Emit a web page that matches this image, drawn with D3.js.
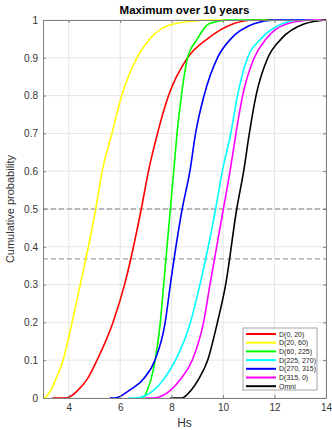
<!DOCTYPE html>
<html>
<head>
<meta charset="utf-8">
<script src="https://cdn.jsdelivr.net/npm/d3@7"></script>
<style>
  body { margin: 0; background: #fff; }
  svg { font-family: "Liberation Sans", Arial, sans-serif; }
  .grid line { stroke: #e6e6e6; }
</style>
</head>
<body>
<div id="chart"></div>
<script>
// cumulative probability levels shared by all curves (first two: flat start at 0)
var probs = [0, 0, 0.02, 0.05, 0.1, 0.2, 0.3, 0.5, 0.6, 0.7, 0.8, 0.9, 0.95, 0.99, 1, 1];

// Hs values at each probability level
var hsD0_20    = [3.37, 3.9, 4.35, 4.72, 5.1, 5.72, 6.17, 6.82, 7.1, 7.45, 7.88, 8.62, 9.39, 10.4, 11.2, 11.9];
var hsD20_60   = [2.98, 3.05, 3.3, 3.5, 3.78, 4.13, 4.45, 5.05, 5.3, 5.68, 6.06, 6.65, 7.15, 8.1, 9.6, 10.2];
var hsD60_225  = [6.84, 6.88, 7.05, 7.2, 7.36, 7.56, 7.69, 7.95, 8.08, 8.21, 8.38, 8.62, 9.0, 9.45, 10.2, 12.0];
var hsD225_270 = [6.33, 6.6, 7.3, 7.7, 8.15, 8.73, 9.1, 9.71, 9.97, 10.3, 10.56, 10.95, 11.47, 12.3, 13.0, 13.6];
var hsD270_315 = [5.6, 5.8, 6.35, 6.9, 7.35, 7.75, 7.95, 8.41, 8.71, 8.93, 9.26, 9.78, 10.3, 11.2, 12.0, 13.4];
var hsD315_0   = [6.97, 7.3, 7.95, 8.35, 8.8, 9.24, 9.49, 10.01, 10.27, 10.5, 10.76, 11.21, 11.67, 12.5, 13.5, 14.0];
var hsOmni     = [7.95, 8.4, 8.75, 9.05, 9.4, 9.78, 10.1, 10.53, 10.8, 11.02, 11.28, 11.74, 12.26, 13.17, 14.0, 14.0];

var seriesNames = ["D(0, 20)", "D(20, 60)", "D(60, 225)", "D(225, 270)", "D(270, 315)", "D(315, 0)", "Omni"];
var seriesValues = [hsD0_20, hsD20_60, hsD60_225, hsD225_270, hsD270_315, hsD315_0, hsOmni];
var colors = ["#ff0000", "#ffff00", "#00ff00", "#00ffff", "#0000ff", "#ff00ff", "#000000"];

var xTicks = [4, 6, 8, 10, 12, 14];
var yTicks = [0, 0.1, 0.2, 0.3, 0.4, 0.5, 0.6, 0.7, 0.8, 0.9, 1];
var refLevels = [0.5, 0.3679];

var W = 332, H = 430;
var margin = { top: 20, right: 6, bottom: 32, left: 43 };
var width = W - margin.left - margin.right,
    height = H - margin.top - margin.bottom;

var svg = d3.select("#chart").append("svg")
  .attr("width", W).attr("height", H);

var g = svg.append("g")
  .attr("transform", "translate(" + margin.left + "," + margin.top + ")");

var x = d3.scaleLinear().domain([3, 14]).range([0, width]);
var y = d3.scaleLinear().domain([0, 1]).range([height, 0]);

// grid
g.append("g").attr("class", "grid")
  .selectAll("line.v").data(xTicks).enter().append("line")
  .attr("x1", function (d) { return x(d); }).attr("x2", function (d) { return x(d); })
  .attr("y1", 0).attr("y2", height);
g.append("g").attr("class", "grid")
  .selectAll("line.h").data(yTicks).enter().append("line")
  .attr("y1", function (d) { return y(d); }).attr("y2", function (d) { return y(d); })
  .attr("x1", 0).attr("x2", width);

// dashed reference lines
g.selectAll("line.ref").data(refLevels).enter().append("line")
  .attr("class", "ref")
  .attr("x1", 0).attr("x2", width)
  .attr("y1", function (d) { return y(d); }).attr("y2", function (d) { return y(d); })
  .attr("stroke", "#a6a6a6").attr("stroke-width", 1.3)
  .attr("stroke-dasharray", "5,3");

// curves
g.append("clipPath").attr("id", "clip").append("rect")
  .attr("x", 0).attr("y", -2).attr("width", width).attr("height", height + 4);

var line = d3.line()
  .x(function (d) { return x(d[0]); })
  .y(function (d) { return y(d[1]); })
  .curve(d3.curveMonotoneX);

seriesValues.forEach(function (vals, i) {
  var pts = vals.map(function (v, j) { return [v, probs[j]]; });
  g.append("path")
    .datum(pts)
    .attr("clip-path", "url(#clip)")
    .attr("fill", "none")
    .attr("stroke", colors[i])
    .attr("stroke-width", 1.6)
    .attr("d", line);
});

// axes (box with inward ticks)
var axisColor = "#808080";
var xAxis = d3.axisBottom(x).tickValues(xTicks).tickSize(-3).tickPadding(6);
var yAxis = d3.axisLeft(y).tickValues(yTicks).tickSize(-3).tickPadding(5)
  .tickFormat(function (d) { return d === 0 || d === 1 ? d : d3.format(".1f")(d); });

g.append("g").attr("transform", "translate(0," + height + ")").call(xAxis);
g.append("g").call(yAxis);
g.append("g").call(d3.axisTop(x).tickValues(xTicks).tickSize(-3).tickFormat(""));
g.append("g").attr("transform", "translate(" + width + ",0)")
  .call(d3.axisRight(y).tickValues(yTicks).tickSize(-3).tickFormat(""));

g.selectAll(".domain").attr("stroke", axisColor);
g.selectAll(".tick line").attr("stroke", axisColor);
g.selectAll(".tick text").attr("fill", "#333").style("font-size", "10px")
  .style("font-family", "Liberation Sans, Arial, sans-serif");

// title & labels
svg.append("text")
  .attr("x", margin.left + width / 2).attr("y", 14)
  .attr("text-anchor", "middle")
  .style("font-size", "11.5px").style("font-weight", "bold")
  .text("Maximum over 10 years");

svg.append("text")
  .attr("x", margin.left + width / 2).attr("y", H - 3)
  .attr("text-anchor", "middle")
  .attr("fill", "#333")
  .style("font-size", "12px")
  .text("Hs");

svg.append("text")
  .attr("transform", "translate(14," + (margin.top + height / 2) + ") rotate(-90)")
  .attr("text-anchor", "middle")
  .attr("fill", "#333")
  .style("font-size", "11px")
  .text("Cumulative probability");

// legend
var lg = svg.append("g").attr("transform", "translate(243,328)");
lg.append("rect")
  .attr("width", 74).attr("height", 62)
  .attr("fill", "#fff").attr("stroke", "#8c8c8c").attr("stroke-width", 0.8);
var item = lg.selectAll("g.item").data(seriesNames).enter().append("g")
  .attr("transform", function (d, i) { return "translate(0," + (6 + i * 8.7) + ")"; });
item.append("line")
  .attr("x1", 3).attr("x2", 33).attr("y1", 0).attr("y2", 0)
  .attr("stroke", function (d, i) { return colors[i]; })
  .attr("stroke-width", 2);
item.append("text")
  .attr("x", 36).attr("y", 2.5)
  .style("font-size", "7px")
  .attr("fill", "#222")
  .text(function (d) { return d; });
</script>
</body>
</html>
